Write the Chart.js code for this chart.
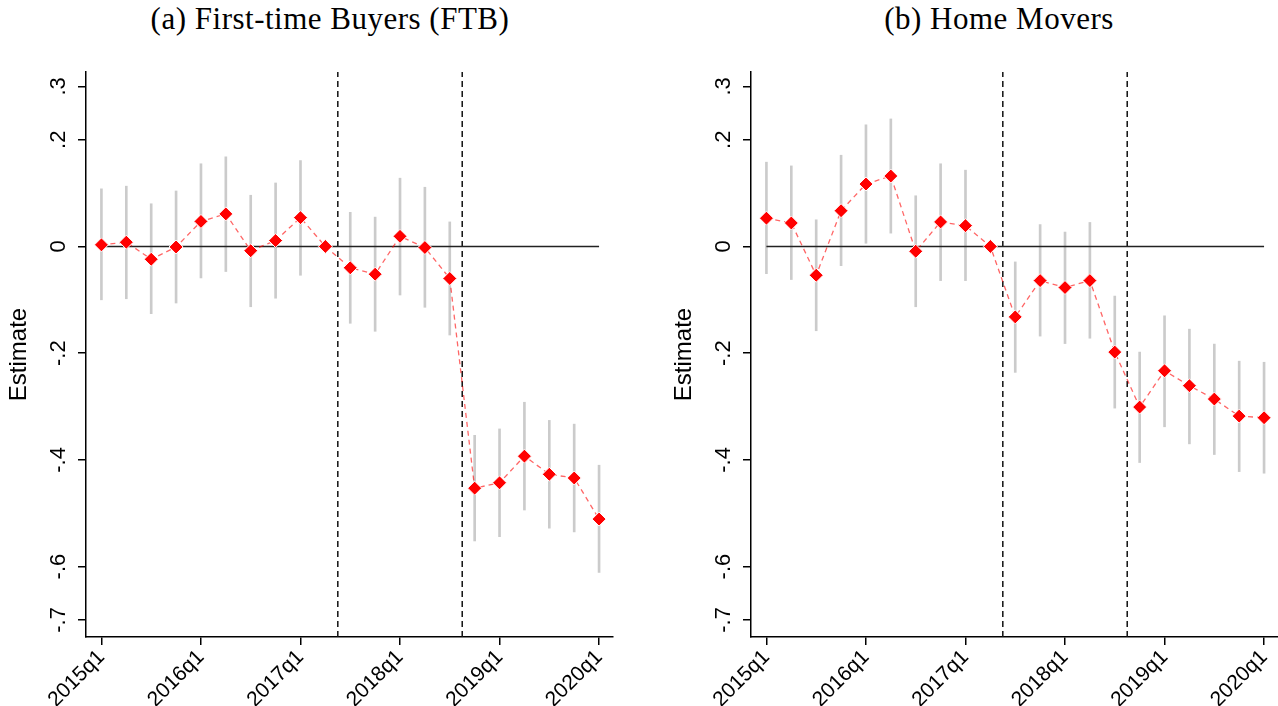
<!DOCTYPE html>
<html>
<head>
<meta charset="utf-8">
<script src="https://cdn.jsdelivr.net/npm/chart.js@4.4.1/dist/chart.umd.min.js"></script>
<style>
  html, body { margin: 0; padding: 0; background: #fff; }
  #wrap { position: relative; width: 1278px; height: 706px; overflow: hidden; }
  .ttl { position: absolute; top: 1px; font-family: "Liberation Serif", serif; font-size: 31px;
         letter-spacing: 0.5px; white-space: nowrap; transform: translateX(-50%); color: #000; }
  canvas { position: absolute; top: 0; }
</style>
</head>
<body>
<div id="wrap">
  <div class="ttl" style="left:330px">(a) First-time Buyers (FTB)</div>
  <div class="ttl" style="left:999px">(b) Home Movers</div>
  <canvas id="ftb" width="640" height="706" style="left:0"></canvas>
  <canvas id="hm" width="640" height="706" style="left:665px"></canvas>
</div>
<script>
const quarters = ['2015q1','2015q2','2015q3','2015q4','2016q1','2016q2','2016q3','2016q4',
  '2017q1','2017q2','2017q3','2017q4','2018q1','2018q2','2018q3','2018q4',
  '2019q1','2019q2','2019q3','2019q4','2020q1'];

// (a) first-time buyers: estimate and 95% band
const ftbEst = [0.003, 0.008, -0.024, -0.001, 0.047, 0.061, -0.008, 0.011, 0.054, 0, -0.040,
  -0.052, 0.019, -0.002, -0.060, -0.453, -0.443, -0.393, -0.427, -0.434, -0.511];
const ftbHi = [0.108, 0.113, 0.080, 0.104, 0.155, 0.168, 0.096, 0.119, 0.161, null, 0.064,
  0.055, 0.128, 0.111, 0.046, -0.354, -0.342, -0.292, -0.326, -0.333, -0.410];
const ftbLo = [-0.100, -0.098, -0.126, -0.106, -0.059, -0.047, -0.113, -0.097, -0.054, null, -0.144,
  -0.159, -0.091, -0.114, -0.166, -0.552, -0.544, -0.494, -0.528, -0.535, -0.611];

// (b) home movers
const hmEst = [0.053, 0.044, -0.054, 0.067, 0.117, 0.132, -0.009, 0.046, 0.039, 0, -0.132,
  -0.064, -0.077, -0.064, -0.198, -0.301, -0.233, -0.261, -0.286, -0.318, -0.321];
const hmHi = [0.158, 0.151, 0.050, 0.171, 0.228, 0.239, 0.095, 0.155, 0.143, null, -0.029,
  0.041, 0.027, 0.045, -0.093, -0.198, -0.130, -0.155, -0.183, -0.215, -0.217];
const hmLo = [-0.051, -0.062, -0.158, -0.036, 0.006, 0.025, -0.113, -0.064, -0.064, null, -0.236,
  -0.168, -0.182, -0.172, -0.303, -0.405, -0.338, -0.370, -0.390, -0.422, -0.425];

// policy dates (between quarters)
const eventLines = [9.5, 14.5];
const yTicks = [-0.7, -0.6, -0.4, -0.2, 0, 0.2, 0.3];

const yMin = -0.732, yMax = 0.327;
const sans = 'Liberation Sans';

function fmtY(v) {
  if (v === 0) return '0';
  return v.toFixed(1).replace('0.', '.');
}

function drawPanel(id, est, lo, hi) {
  const pts = est.map((v, i) => ({ x: i, y: v }));
  const bars = lo.map((v, i) => ({ x: i, y: v === null ? null : [v, hi[i]] }));
  const datasets = [
    { type: 'line', data: pts, borderColor: 'rgba(255,0,0,0.6)', borderWidth: 1.3, borderDash: [5, 4],
      pointStyle: 'rectRot', pointRadius: 7, pointBackgroundColor: '#ff0000',
      pointBorderColor: '#ffffff', pointBorderWidth: 1, order: 0 },
    { type: 'line', data: [{ x: 0, y: 0 }, { x: quarters.length - 1, y: 0 }], borderColor: '#222',
      borderWidth: 1.5, pointRadius: 0, order: 1 },
    { type: 'bar', data: bars, backgroundColor: '#cbcbcb', barThickness: 2, order: 2 }
  ];
  eventLines.forEach(e => datasets.push({
    type: 'line', data: [{ x: e, y: yMin }, { x: e, y: yMax }], borderColor: '#111',
    borderWidth: 1.5, borderDash: [6, 4], pointRadius: 0, order: 3
  }));

  new Chart(document.getElementById(id), {
    type: 'line',
    data: { datasets: datasets },
    options: {
      responsive: false,
      animation: false,
      devicePixelRatio: 1,
      layout: { padding: { top: 72, left: 0, right: 27, bottom: 0 } },
      plugins: { legend: { display: false }, tooltip: { enabled: false } },
      scales: {
        x: {
          type: 'linear', min: -0.62, max: 20.56, offset: false,
          afterBuildTicks: s => {
            s.ticks = quarters.map((q, i) => ({ value: i })).filter(t => quarters[t.value].endsWith('q1'));
          },
          afterFit: s => { s.height = 69; },
          ticks: { callback: v => quarters[v], minRotation: 45, maxRotation: 45, autoSkip: false,
                   font: { family: sans, size: 21 }, color: '#000', padding: 0 },
          grid: { display: true, offset: false, drawOnChartArea: false, drawTicks: true, tickLength: 8,
                  color: '#000', lineWidth: 1.5 },
          border: { display: true, color: '#000', width: 1.5 }
        },
        y: {
          type: 'linear', min: yMin, max: yMax,
          afterBuildTicks: s => { s.ticks = yTicks.map(v => ({ value: v })); },
          afterFit: s => { s.width = 86; },
          ticks: { callback: v => fmtY(v), minRotation: 90, maxRotation: 90, crossAlign: 'center',
                   font: { family: sans, size: 22 }, color: '#000', padding: 6 },
          title: { display: true, text: 'Estimate', font: { family: sans, size: 24 }, color: '#000',
                   padding: { top: 5, bottom: 0 } },
          grid: { display: true, offset: false, drawOnChartArea: false, drawTicks: true, tickLength: 8,
                  color: '#000', lineWidth: 1.5 },
          border: { display: true, color: '#000', width: 1.5 }
        }
      }
    }
  });
}

drawPanel('ftb', ftbEst, ftbLo, ftbHi);
drawPanel('hm', hmEst, hmLo, hmHi);
</script>
</body>
</html>
